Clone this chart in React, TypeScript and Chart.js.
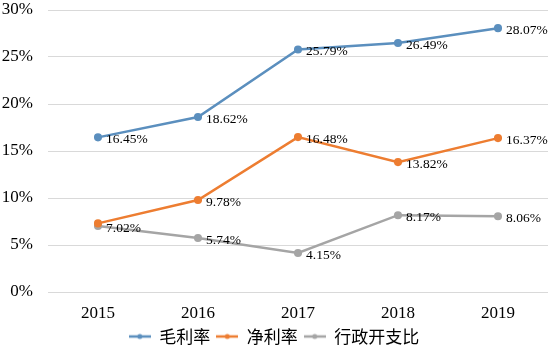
import { useEffect, useRef } from 'react';
import { Chart, registerables } from 'chart.js';
Chart.register(...registerables);

const categories = ['2015', '2016', '2017', '2018', '2019'];
const grossMargin = [16.45, 18.62, 25.79, 26.49, 28.07];
const netMargin = [7.3, 9.78, 16.48, 13.82, 16.37];
const adminRatio = [7.02, 5.74, 4.15, 8.17, 8.06];
const seriesNames = ['毛利率', '净利率', '行政开支比'];
const seriesColors = ['#5B8FBE', '#ED7D31', '#A5A5A5'];
const yMin = 0;
const yMax = 30;
const yStep = 5;

const SERIF = '"Liberation Serif", "DejaVu Serif", serif';
const CJK = '"Noto Sans CJK SC", sans-serif';

function legendMarker(color: string): HTMLCanvasElement {
  const c = document.createElement('canvas');
  c.width = 22;
  c.height = 10;
  const g = c.getContext('2d')!;
  g.strokeStyle = color;
  g.lineWidth = 2.5;
  g.beginPath();
  g.moveTo(0, 5);
  g.lineTo(22, 5);
  g.stroke();
  g.fillStyle = color;
  g.beginPath();
  g.arc(11, 5, 2.5, 0, Math.PI * 2);
  g.fill();
  return c;
}

const valueLabels = {
  id: 'valueLabels',
  afterDatasetsDraw(chart: any) {
    const ctx = chart.ctx;
    ctx.save();
    ctx.font = '13.5px ' + SERIF;
    ctx.fillStyle = '#000';
    ctx.textAlign = 'left';
    ctx.textBaseline = 'middle';
    const boxes: { x: number; y: number; w: number; h: number }[] = [];
    for (let d = chart.data.datasets.length - 1; d >= 0; d--) {
      const meta = chart.getDatasetMeta(d);
      const ds = chart.data.datasets[d];
      meta.data.forEach((pt: any, i: number) => {
        const text = Number(ds.data[i]).toFixed(2) + '%';
        const x = pt.x + 8;
        const y = pt.y + 2;
        const w = ctx.measureText(text).width;
        const b = { x, y: y - 6, w, h: 12 };
        const hit = boxes.some(
          (o) => b.x < o.x + o.w && o.x < b.x + b.w && b.y < o.y + o.h && o.y < b.y + b.h
        );
        if (hit) return;
        boxes.push(b);
        ctx.fillText(text, x, y);
      });
    }
    ctx.restore();
  },
};

export default function App() {
  const ref = useRef<HTMLCanvasElement>(null);
  useEffect(() => {
    document.body.style.margin = '0';
    const series = [grossMargin, netMargin, adminRatio];
    const markers = seriesColors.map(legendMarker);
    const chart = new Chart(ref.current!, {
      type: 'line',
      data: {
        labels: categories,
        datasets: series.map((s, i) => ({
          label: seriesNames[i],
          data: s,
          borderColor: seriesColors[i],
          backgroundColor: seriesColors[i],
          borderWidth: 2.5,
          pointRadius: 2.8,
          pointHoverRadius: 2.8,
          tension: 0,
        })),
      },
      options: {
        animation: false,
        responsive: false,
        maintainAspectRatio: false,
        layout: { padding: { left: 0, right: 6, top: 10, bottom: 0 } },
        plugins: {
          tooltip: { enabled: false },
          legend: {
            position: 'bottom',
            labels: {
              usePointStyle: true,
              pointStyleWidth: 22,
              padding: 6,
              color: '#000',
              font: { family: CJK, size: 17 },
              generateLabels: (c: any) => {
                const items = Chart.defaults.plugins.legend.labels.generateLabels(c);
                items.forEach((it: any, i: number) => {
                  it.pointStyle = markers[i];
                });
                return items;
              },
            },
          },
        },
        scales: {
          x: {
            offset: true,
            afterFit: (s: any) => {
              s.height = 30;
              s.paddingTop = 0;
              s.paddingBottom = 0;
            },
            grid: { display: false, drawTicks: false },
            border: { display: false },
            ticks: { color: '#000', font: { family: SERIF, size: 17 }, padding: 11 },
          },
          y: {
            min: yMin,
            max: yMax,
            afterFit: (s: any) => {
              s.width = 48;
              s.paddingTop = 0;
              s.paddingBottom = 0;
            },
            grid: { color: '#D9D9D9', lineWidth: 1, drawTicks: false },
            border: { display: false },
            ticks: {
              stepSize: yStep,
              color: '#000',
              padding: 15,
              font: { family: SERIF, size: 17 },
              callback: (v: any) => v + '%',
            },
          },
        },
      },
      plugins: [valueLabels],
    } as any);
    const lg: any = (chart as any).legend;
    if (lg) {
      const origFit = lg.fit.bind(lg);
      lg.fit = () => {
        origFit();
        lg.height = 33;
      };
      chart.update();
    }
    return () => chart.destroy();
  }, []);
  return (
    <div style={{ position: 'relative', width: 554, height: 355 }}>
      <canvas ref={ref} width={554} height={355} style={{ display: 'block' }} />
    </div>
  );
}
